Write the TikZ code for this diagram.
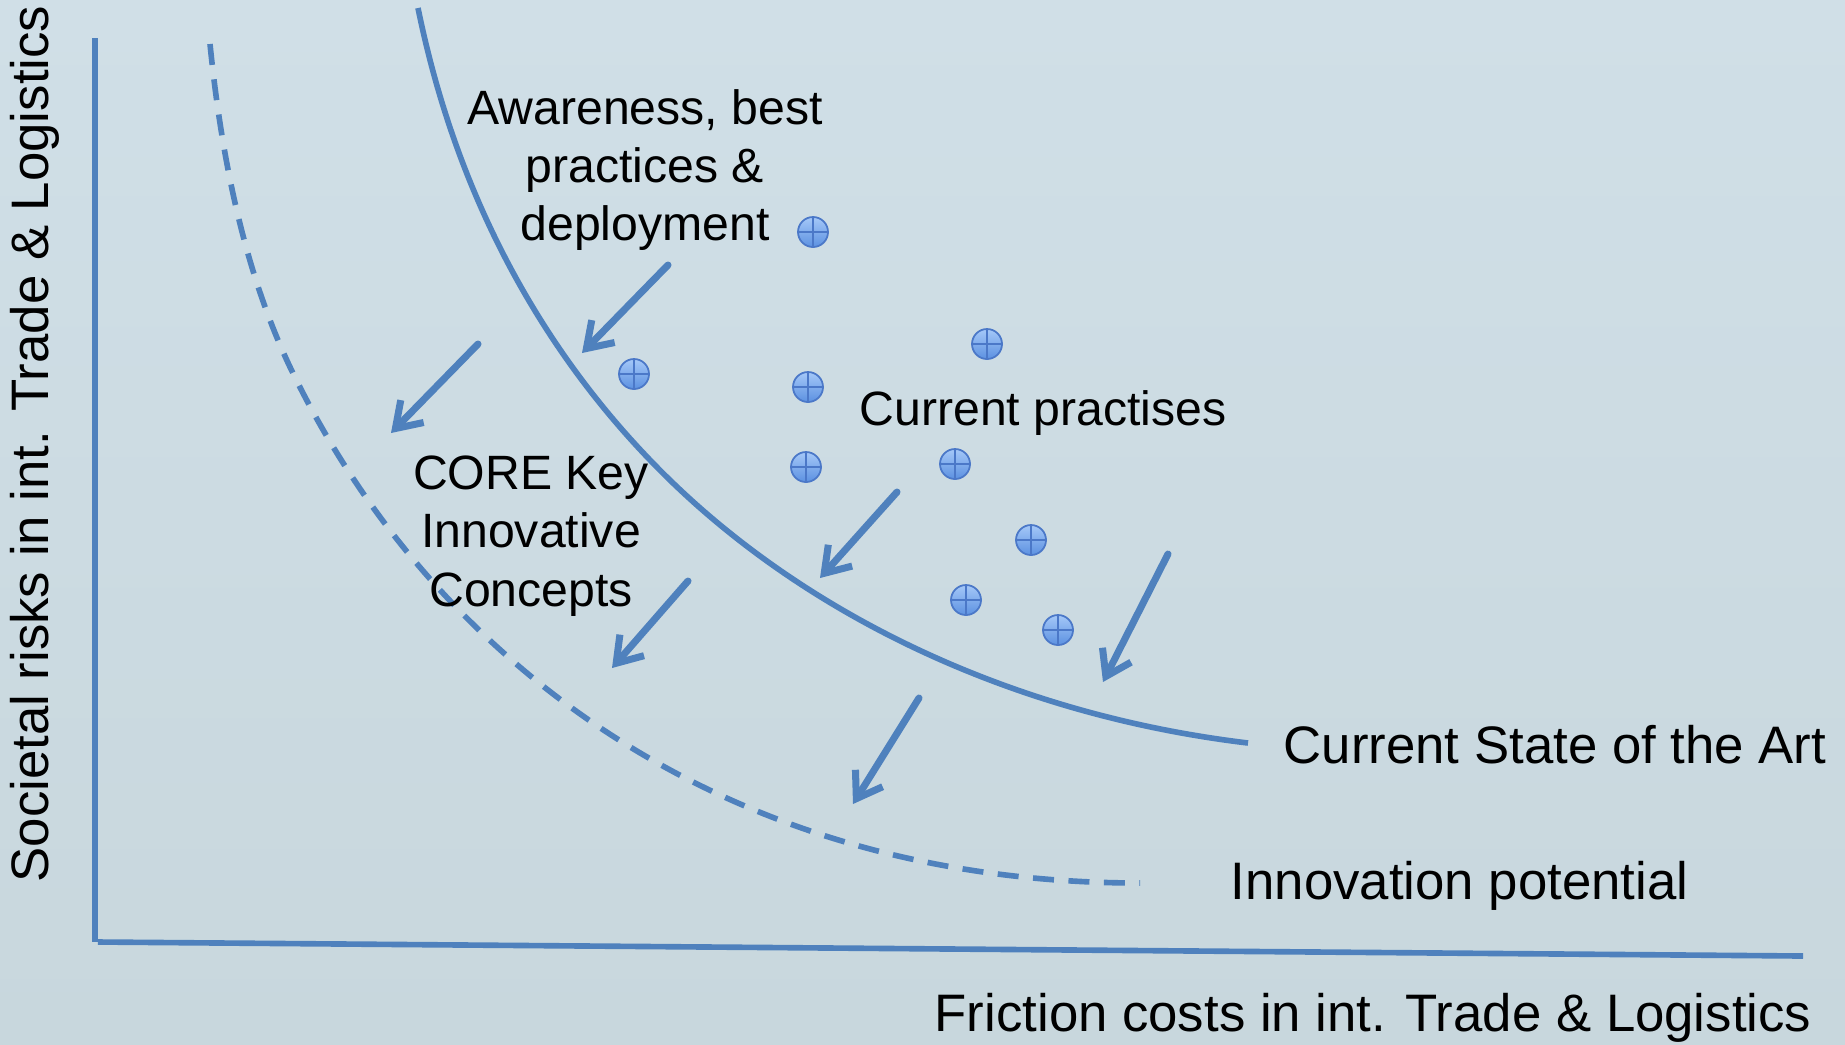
\documentclass[tikz,border=0pt]{standalone}
\usepackage{fontspec}
\setmainfont{Liberation Sans}
\usetikzlibrary{arrows.meta}

\definecolor{slide}{RGB}{200,215,221}
\definecolor{slidetop}{RGB}{208,223,231}
\definecolor{lineblue}{RGB}{79,129,189}
\definecolor{ballhi}{RGB}{165,200,248}
\definecolor{balllo}{RGB}{92,145,225}
\definecolor{ballrim}{RGB}{75,120,200}

\begin{document}
\begin{tikzpicture}[x=0.01cm, y=-0.01cm,
    axis/.style={draw=lineblue, line width=1.6pt},
    frontier/.style={draw=lineblue, line width=1.6pt},
    push/.style={draw=lineblue, line width=2pt, line cap=round,
      -{Straight Barb[length=2.4mm, width=3.2mm, line width=2pt]}},
    marker/.style={circle, minimum size=0.3cm, inner sep=0pt, draw=ballrim, line width=0.5pt,
      top color=ballhi, bottom color=balllo,
      path picture={\draw[ballrim, line width=0.6pt]
        (path picture bounding box.north) -- (path picture bounding box.south)
        (path picture bounding box.west) -- (path picture bounding box.east);}},
    label/.style={inner sep=0pt, font=\fontsize{15pt}{16.5pt}\selectfont},
    inlabel/.style={inner sep=0pt, font=\fontsize{13.7pt}{16.6pt}\selectfont}]
  \useasboundingbox (0,0) rectangle (1845,1044);
  \shade[top color=slidetop, bottom color=slide] (0,0) rectangle (1845,1044);
  % axes
  \draw[axis] (95,38) -- (95,942);
  \draw[axis] (98,942) -- (1803,956);
  % frontier curves
  \draw[frontier] (418,8) .. controls (458,204) and (546,352) .. (650,460)
    .. controls (788,604) and (998,713) .. (1248,743);
  \draw[frontier, dash pattern=on 0.21cm off 0.145cm] (210,44) .. controls (221,153) and (243,268) .. (290,367)
    .. controls (428,655) and (717,883) .. (1140,883);
  %
  \node[inlabel, align=center] (awareness) at (645,170) {Awareness, best\\practices \&\\deployment};
  \node[inlabel, anchor=west] (practises) at (859,413) {Current practises};
  \node[inlabel, align=center] (coreKey) at (531,536) {CORE Key\\Innovative\\Concepts};
  \node[label, anchor=west] (stateArt) at (1283,745) {Current State of the Art};
  \node[label, anchor=west] (innovation) at (1230,886) {Innovation potential};
  \node[label, anchor=east] (xlabel) at (1812,1018) {Friction costs in int. Trade \& Logistics};
  \node[label, rotate=90] (ylabel) at (35,444) {Societal risks in int. Trade \& Logistics};
  %
  \foreach \name/\px/\py in {m1/813/232, m2/634/374, m3/808/387, m4/987/344, m5/806/467,
      m6/955/464, m7/1031/540, m8/966/600, m9/1058/630}
    \node[marker] (\name) at (\px,\py) {};
  %
  \coordinate (a1s) at (668,265); \coordinate (a1e) at (582,353);
  \coordinate (a2s) at (478,344); \coordinate (a2e) at (391,433);
  \coordinate (a3s) at (897,492); \coordinate (a3e) at (820,578);
  \coordinate (a4s) at (688,581); \coordinate (a4e) at (612,668);
  \coordinate (a5s) at (1168,554); \coordinate (a5e) at (1103,682);
  \coordinate (a6s) at (919,698); \coordinate (a6e) at (853,804);
  \foreach \i in {1,...,6}
    \draw[push] (a\i s) -- (a\i e);
\end{tikzpicture}
\end{document}
